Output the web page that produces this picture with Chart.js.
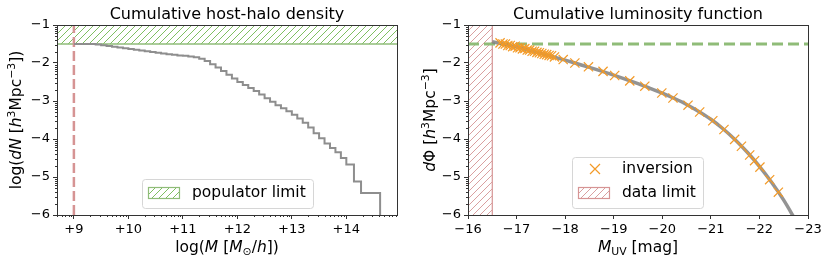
<!DOCTYPE html>
<html>
<head>
<meta charset="utf-8">
<script src="https://cdn.jsdelivr.net/npm/chart.js@4.4.1/dist/chart.umd.min.js"></script>
<style>
  html, body { margin: 0; padding: 0; background: #fff; }
  #wrap { position: relative; width: 830px; height: 264px; }
  .panel { position: absolute; top: 0; width: 415px; height: 264px; }
</style>
</head>
<body>
<div id="wrap">
  <div class="panel" style="left:0"><canvas id="haloChart" width="415" height="264"></canvas></div>
  <div class="panel" style="left:415px"><canvas id="lumChart" width="415" height="264"></canvas></div>
</div>
<script>
// Left panel: cumulative host-halo density (step curve)
const haloMass = [9.0, 9.4, 9.5, 9.6, 9.7, 9.8, 9.9, 10.0, 10.1, 10.2, 10.3, 10.4, 10.5, 10.6, 10.7, 10.8, 10.9,
  11.0, 11.1, 11.2, 11.3, 11.4, 11.5, 11.6, 11.7, 11.8, 11.9, 12.0, 12.1, 12.2, 12.3, 12.4, 12.5, 12.6, 12.7,
  12.8, 12.9, 13.0, 13.1, 13.2, 13.3, 13.4, 13.5, 13.6, 13.7, 13.8, 13.9, 14.0, 14.14, 14.27, 14.62];
const haloLogN = [-1.50, -1.51, -1.53, -1.55, -1.57, -1.59, -1.61, -1.63, -1.65, -1.67, -1.69, -1.71, -1.73, -1.75, -1.77, -1.78, -1.80,
  -1.81, -1.83, -1.85, -1.89, -1.95, -2.03, -2.12, -2.21, -2.31, -2.41, -2.50, -2.58, -2.66, -2.74, -2.83, -2.93, -3.02, -3.11,
  -3.19, -3.27, -3.36, -3.46, -3.57, -3.70, -3.85, -3.98, -4.12, -4.24, -4.35, -4.50, -4.67, -5.12, -5.42, -8];
const popLimit = -1.5;
const haloMinMass = 9.0;
const massTicks = [9, 10, 11, 12, 13, 14];
const logTicks = [-6, -5, -4, -3, -2, -1];

// Right panel: cumulative luminosity function
const lfMag = [-16.5, -16.75, -17.0, -17.25, -17.5, -17.75, -18.0, -18.25, -18.5, -18.75, -19.0, -19.25, -19.5,
  -19.75, -20.0, -20.25, -20.5, -20.75, -21.0, -21.25, -21.5, -21.75, -22.0, -22.25, -22.5, -22.75];
const lfPhi = [-1.44, -1.51, -1.58, -1.66, -1.745, -1.835, -1.925, -2.02, -2.115, -2.215, -2.32, -2.43, -2.545,
  -2.665, -2.795, -2.935, -3.09, -3.275, -3.48, -3.73, -4.02, -4.35, -4.72, -5.14, -5.61, -6.15];
const invMag = [-16.66, -16.72, -16.77, -16.82, -16.87, -16.92, -16.97, -17.02, -17.07, -17.12, -17.17, -17.22,
  -17.27, -17.32, -17.37, -17.42, -17.47, -17.52, -17.57, -17.62, -17.67, -17.72, -17.78, -17.96, -18.20, -18.48,
  -18.78, -19.02, -19.33, -19.64, -19.99, -20.22, -20.53, -20.77, -21.04, -21.27, -21.49, -21.63, -21.80, -21.90,
  -22.01, -22.21, -22.39];
const invPhi = [-1.47, -1.50, -1.50, -1.54, -1.54, -1.57, -1.56, -1.60, -1.60, -1.63, -1.62, -1.66,
  -1.66, -1.69, -1.69, -1.72, -1.73, -1.75, -1.77, -1.78, -1.80, -1.81, -1.84, -1.91, -2.00, -2.10,
  -2.22, -2.33, -2.47, -2.61, -2.79, -2.92, -3.11, -3.29, -3.52, -3.75, -4.01, -4.19, -4.42, -4.57,
  -4.74, -5.07, -5.40];
const dataLimit = -16.5;
const magTicks = [-16, -17, -18, -19, -20, -21, -22, -23];

const FONT = '"DejaVu Sans", sans-serif';
const GREEN = '#8fbc78';
const RED = '#d69494';
const ORANGE = '#f39a27';
const minus = v => String(v).replace('-', '\u2212');

function hatch(color) {
  const n = 7;
  const c = document.createElement('canvas');
  c.width = n; c.height = n;
  const g = c.getContext('2d');
  g.fillStyle = '#fff';
  g.fillRect(0, 0, n, n);
  g.strokeStyle = color;
  g.lineWidth = 1;
  g.beginPath();
  g.moveTo(-1, n + 1); g.lineTo(n + 1, -1);
  g.moveTo(-1, 1); g.lineTo(1, -1);
  g.moveTo(n - 1, n + 1); g.lineTo(n + 1, n - 1);
  g.stroke();
  return g.createPattern(c, 'repeat');
}
const greenHatch = hatch('#7fbf62');
const redHatch = hatch('#d9a0a0');

// text with italic / sub / superscript pieces
function richText(ctx, segs, size, x, y) {
  const parts = segs.map(s => {
    const sz = (s.sub || s.sup) ? size * 0.7 : size;
    const font = (s.it ? 'italic ' : '') + sz + 'px ' + FONT;
    ctx.font = font;
    return { t: s.t, font, w: ctx.measureText(s.t).width, dy: s.sup ? -size * 0.4 : s.sub ? size * 0.22 : 0 };
  });
  const total = parts.reduce((a, p) => a + p.w, 0);
  let cx = x - total / 2;
  ctx.textAlign = 'left';
  ctx.textBaseline = 'alphabetic';
  parts.forEach(p => { ctx.font = p.font; ctx.fillText(p.t, cx, y + p.dy); cx += p.w; });
}

const deco = {
  id: 'deco',
  afterDatasetsDraw(chart, args, o) {
    const ctx = chart.ctx, a = chart.chartArea;
    ctx.save();
    ctx.strokeStyle = '#333';
    ctx.lineWidth = 1;
    // minor ticks
    ctx.beginPath();
    (o.minorX || []).forEach(v => {
      const px = Math.round(chart.scales.x.getPixelForValue(v)) + 0.5;
      ctx.moveTo(px, a.bottom); ctx.lineTo(px, a.bottom + 2);
    });
    (o.minorY || []).forEach(v => {
      const py = Math.round(chart.scales.y.getPixelForValue(v)) + 0.5;
      ctx.moveTo(a.left - 2, py); ctx.lineTo(a.left, py);
    });
    ctx.stroke();
    ctx.strokeRect(Math.round(a.left) + 0.5, Math.round(a.top) + 0.5, Math.round(a.right - a.left), Math.round(a.bottom - a.top));
    ctx.restore();
  },
  afterDraw(chart, args, o) {
    const ctx = chart.ctx, a = chart.chartArea;
    const mid = (a.left + a.right) / 2;
    ctx.save();
    ctx.fillStyle = '#000';
    ctx.font = '16px ' + FONT;
    ctx.textAlign = 'center';
    ctx.textBaseline = 'alphabetic';
    ctx.fillText(o.title, mid, 19);
    richText(ctx, o.xLabel, 15.5, mid, 252);
    ctx.save();
    ctx.translate(o.yLabelX, (a.top + a.bottom) / 2);
    ctx.rotate(-Math.PI / 2);
    richText(ctx, o.yLabel, 15.5, 0, 0);
    ctx.restore();
    // legend
    const L = o.legend;
    const [x1, y1, x2, y2] = L.box;
    ctx.beginPath();
    ctx.roundRect(x1 + 0.5, y1 + 0.5, x2 - x1, y2 - y1, 3);
    ctx.fillStyle = 'rgba(255,255,255,0.8)';
    ctx.fill();
    ctx.strokeStyle = '#d6d6d6';
    ctx.lineWidth = 1;
    ctx.stroke();
    L.items.forEach(it => {
      if (it.kind === 'hatch') {
        ctx.fillStyle = it.fill;
        ctx.fillRect(it.sx, it.sy, 31, 11);
        ctx.strokeStyle = it.edge;
        ctx.lineWidth = 1.2;
        ctx.strokeRect(it.sx + 0.5, it.sy + 0.5, 31, 11);
      } else {
        ctx.strokeStyle = it.edge;
        ctx.lineWidth = 1.2;
        ctx.beginPath();
        ctx.moveTo(it.sx - 5, it.sy - 5); ctx.lineTo(it.sx + 5, it.sy + 5);
        ctx.moveTo(it.sx - 5, it.sy + 5); ctx.lineTo(it.sx + 5, it.sy - 5);
        ctx.stroke();
      }
      ctx.fillStyle = '#000';
      ctx.font = '15.5px ' + FONT;
      ctx.textAlign = 'left';
      ctx.textBaseline = 'middle';
      ctx.fillText(it.text, it.tx, it.ty);
    });
    ctx.restore();
  }
};

function logMinor(lo, hi) {
  const out = [];
  for (let d = Math.floor(lo); d < hi; d++) {
    for (let k = 2; k <= 9; k++) {
      const v = d + Math.log10(k);
      if (v > lo && v < hi) out.push(v);
    }
  }
  return out;
}

function axis(min, max, ticks, fmt, size, extra) {
  return Object.assign({
    type: 'linear', min, max,
    afterBuildTicks: s => { s.ticks = ticks.map(v => ({ value: v })); },
    afterFit: s => { if (s.isHorizontal()) s.height = size; else s.width = size; },
    grid: { drawOnChartArea: false, tickLength: 4, color: '#333' },
    border: { display: false },
    ticks: { color: '#000', font: { family: FONT, size: 13 }, padding: 3, callback: fmt, autoSkip: false, maxRotation: 0 }
  }, extra || {});
}

const common = {
  responsive: false,
  animation: false,
  devicePixelRatio: 1,
  events: []
};

new Chart(document.getElementById('haloChart'), {
  type: 'scatter',
  plugins: [deco],
  data: {
    datasets: [
      { data: [{ x: 8.5, y: popLimit }, { x: 15.2, y: popLimit }], showLine: true, pointRadius: 0,
        borderColor: GREEN, borderWidth: 1.3, backgroundColor: greenHatch, fill: 'end', order: 3 },
      { data: haloMass.map((m, i) => ({ x: m, y: haloLogN[i] })), showLine: true, stepped: true, pointRadius: 0,
        borderColor: '#8e8e8e', borderWidth: 2, fill: false, order: 1, clip: 0 },
      { data: [{ x: haloMinMass, y: -6 }, { x: haloMinMass, y: -1 }], showLine: true, pointRadius: 0,
        borderColor: RED, borderWidth: 2.5, borderDash: [10, 4], fill: false, order: 2 }
    ]
  },
  options: Object.assign({}, common, {
    layout: { padding: { top: 25, right: 18, left: 0, bottom: 0 } },
    plugins: {
      legend: { display: false }, tooltip: { enabled: false },
      deco: {
        title: 'Cumulative host-halo density',
        xLabel: [{ t: 'log(' }, { t: 'M', it: 1 }, { t: ' [' }, { t: 'M', it: 1 }, { t: '\u2299', sub: 1 }, { t: '/' }, { t: 'h', it: 1 }, { t: '])' }],
        yLabel: [{ t: 'log(' }, { t: 'dN', it: 1 }, { t: ' [' }, { t: 'h', it: 1 }, { t: '3', sup: 1 }, { t: 'Mpc' }, { t: '\u22123', sup: 1 }, { t: '])' }],
        yLabelX: 21,
        minorX: logMinor(8.69, 14.93),
        minorY: logMinor(-6, -1),
        legend: {
          box: [142, 179, 313, 208],
          items: [{ kind: 'hatch', fill: greenHatch, edge: GREEN, sx: 148, sy: 187, text: 'populator limit', tx: 192, ty: 193 }]
        }
      }
    },
    scales: {
      x: axis(8.69, 14.93, massTicks, v => '+' + v, 49),
      y: axis(-6, -1, logTicks, minus, 57)
    }
  })
});

new Chart(document.getElementById('lumChart'), {
  type: 'scatter',
  plugins: [deco],
  data: {
    datasets: [
      { data: [{ x: -15.8, y: -1 }, { x: dataLimit, y: -1 }], showLine: true, pointRadius: 0,
        borderWidth: 0, backgroundColor: redHatch, fill: 'start', order: 4 },
      { data: [{ x: dataLimit, y: -6 }, { x: dataLimit, y: -1 }], showLine: true, pointRadius: 0,
        borderColor: RED, borderWidth: 1.2, fill: false, order: 3 },
      { data: [{ x: -16, y: popLimit }, { x: -23, y: popLimit }], showLine: true, pointRadius: 0,
        borderColor: GREEN, borderWidth: 3, borderDash: [11, 5], fill: false, order: 2 },
      { data: lfMag.map((m, i) => ({ x: m, y: lfPhi[i] })), showLine: true, pointRadius: 0,
        borderColor: 'rgba(128,128,128,0.85)', borderWidth: 3.5, tension: 0.4, cubicInterpolationMode: 'monotone',
        fill: false, order: 1, clip: 0 },
      { data: invMag.map((m, i) => ({ x: m, y: invPhi[i] })), showLine: false, pointStyle: 'crossRot',
        pointRadius: 6.5, borderColor: ORANGE, borderWidth: 1.2, order: 0 }
    ]
  },
  options: Object.assign({}, common, {
    layout: { padding: { top: 25, right: 22, left: 0, bottom: 0 } },
    plugins: {
      legend: { display: false }, tooltip: { enabled: false },
      deco: {
        title: 'Cumulative luminosity function',
        xLabel: [{ t: 'M', it: 1 }, { t: 'UV', sub: 1 }, { t: ' [mag]' }],
        yLabel: [{ t: 'd', it: 1 }, { t: '\u03A6' }, { t: ' [' }, { t: 'h', it: 1 }, { t: '3', sup: 1 }, { t: 'Mpc' }, { t: '\u22123', sup: 1 }, { t: ']' }],
        yLabelX: 20,
        minorY: logMinor(-6, -1),
        legend: {
          box: [157, 157, 288, 208],
          items: [
            { kind: 'cross', edge: ORANGE, sx: 180, sy: 169, text: 'inversion', tx: 207, ty: 169 },
            { kind: 'hatch', fill: redHatch, edge: RED, sx: 163, sy: 187, text: 'data limit', tx: 207, ty: 193 }
          ]
        }
      }
    },
    scales: {
      x: axis(-23, -16, magTicks, minus, 49, { reverse: true }),
      y: axis(-6, -1, logTicks, minus, 53)
    }
  })
});
</script>
</body>
</html>
